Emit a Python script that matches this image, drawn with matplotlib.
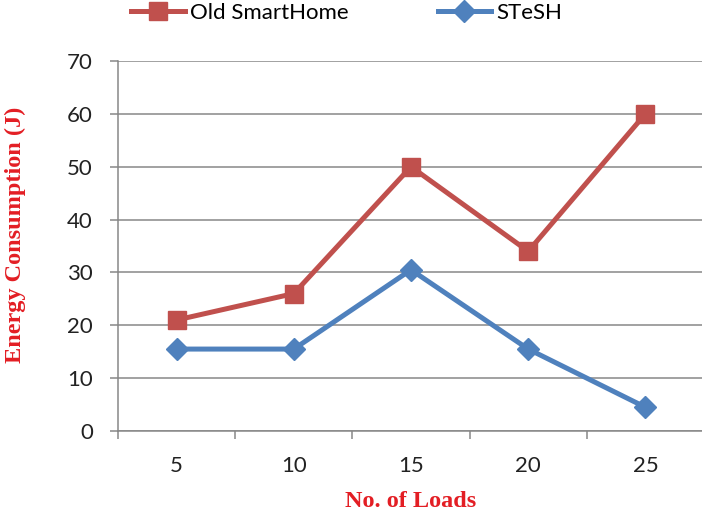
import numpy as np
import matplotlib
matplotlib.use("Agg")
import matplotlib.pyplot as plt

loads = ["5", "10", "15", "20", "25"]
old_smarthome = [21, 26, 50, 34, 60]
stesh = [15.5, 15.5, 30.5, 15.5, 4.5]

RED = "#C0504D"
BLUE = "#4F81BD"
GRID = "#878787"
LABEL_RED = "#E31E24"

plt.rcParams["font.family"] = ["Lato", "DejaVu Sans"]

fig = plt.figure(figsize=(7.02, 5.14), dpi=100)
ax = fig.add_axes([118 / 702, 83 / 514, 586 / 702, 370 / 514])

x = np.arange(len(loads)) + 0.5
ax.plot(x, old_smarthome, color=RED, linewidth=3.6, marker="s", markersize=13,
        markeredgecolor=RED, label="Old SmartHome", zorder=3)
ax.plot(x, stesh, color=BLUE, linewidth=3.6, marker="D", markersize=11.5,
        markeredgecolor=BLUE, label="STeSH", zorder=3)

ax.set_xlim(0, len(loads))
ax.set_ylim(0, 70)
ax.set_yticks(range(0, 71, 10))
ax.set_xticks(range(0, len(loads) + 1))
ax.set_xticklabels([])
ax.set_xticks(x, minor=True)
ax.set_xticklabels(loads, minor=True)

ax.grid(axis="y", color=GRID, linewidth=1.1, zorder=0)
for s in ["top", "right"]:
    ax.spines[s].set_visible(False)
for s in ["left", "bottom"]:
    ax.spines[s].set_color(GRID)
    ax.spines[s].set_linewidth(1.1)

ax.tick_params(axis="y", length=6, width=1.1, color=GRID, pad=12,
               labelsize=16, labelcolor="#222222")
ax.tick_params(axis="x", which="major", length=6, width=1.1, color=GRID)
ax.tick_params(axis="x", which="minor", length=0, pad=18,
               labelsize=16, labelcolor="#222222")

ax.set_xlabel("No. of Loads", family="Liberation Serif", fontweight="bold",
              fontsize=17.5, color=LABEL_RED, labelpad=11)
fig.text(15 / 702, 1 - 235 / 514, "Energy Consumption (J)", rotation=90,
         ha="center", va="center", family="Liberation Serif",
         fontweight="bold", fontsize=17.5, color=LABEL_RED)

fig.legend(loc="center", bbox_to_anchor=(0.494, 1 - 13 / 514), ncol=2,
           frameon=False, fontsize=16, handlelength=2.4, handletextpad=0.25,
           columnspacing=4)

fig.savefig("out.png", dpi=100)
